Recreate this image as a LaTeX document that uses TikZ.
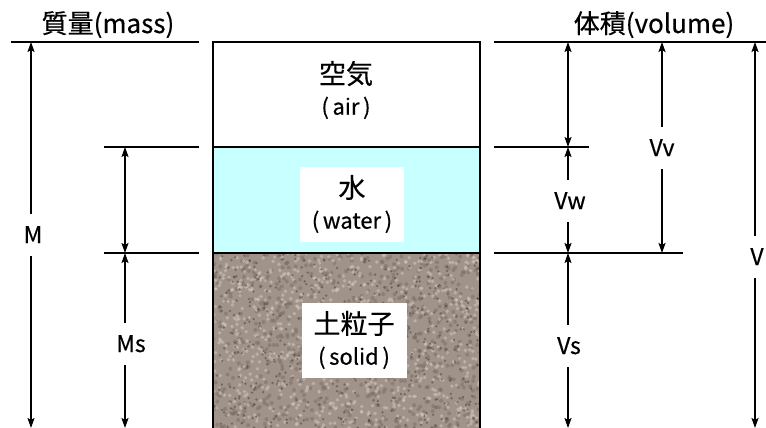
\documentclass[tikz,border=0pt]{standalone}
\usepackage{fontspec}
\usepackage{xcolor}
\usepackage{tikz}
\usetikzlibrary{arrows.meta}
\newfontfamily\jpfont[FakeBold=0.5]{Noto Sans CJK JP}
\definecolor{WaterCyan}{HTML}{C8FFFF}
\definecolor{SoilBase}{HTML}{A0938A}
\definecolor{SoilMid}{HTML}{7C6D62}
\definecolor{SoilLight}{HTML}{D3C9BE}
\definecolor{SoilDark}{HTML}{4E443B}

\begin{document}
\begin{tikzpicture}[x=1pt, y=-1pt, font=\jpfont\fontsize{22}{31}\selectfont,
  dim/.style={line width=1.8pt, -{Stealth[length=10pt,width=7pt,inset=2pt]}},
  dimboth/.style={dim, {Stealth[length=10pt,width=7pt,inset=2pt]}-{Stealth[length=10pt,width=7pt,inset=2pt]}},
  lvl/.style={line width=1.6pt},
  lbl/.style={font=\jpfont\fontsize{23}{28}\selectfont, inner xsep=2pt, inner ysep=13pt, text height=16pt, text depth=0pt},
  big/.style={font=\jpfont\fontsize{26}{31}\selectfont}]
  \useasboundingbox (0,0) rectangle (766,428);

  % soil grains
  \begin{scope}
    \clip (213,253) rectangle (480,428);
    \fill[SoilBase] (213,253) rectangle (480,428);
    \pgfmathsetseed{17}
    \foreach \i in {1,...,700}
      \fill[SoilMid, opacity=0.5] ({213+267*rnd},{253+175*rnd}) circle (2.0);
    \foreach \i in {1,...,800}
      \fill[SoilLight, opacity=0.55] ({213+267*rnd},{253+175*rnd}) circle (1.9);
    \foreach \i in {1,...,500}
      \fill[SoilDark, opacity=0.55] ({213+267*rnd},{253+175*rnd}) circle (1.3);
  \end{scope}
  \fill[WaterCyan] (213,147) rectangle (480,253);

  % column outline
  \draw[lvl] (213,428) -- (213,42) -- (480,42) -- (480,428);
  \draw[lvl] (213,147) -- (480,147);
  \draw[lvl] (213,253) -- (480,253);

  % phase labels
  \node[align=center] (air) at (346,90) {{\fontsize{27}{31}\selectfont 空気}\\(\,air\,)};
  \node[align=center, fill=white, minimum width=104pt, minimum height=75pt] (water) at (352,204)
    {{\fontsize{27}{31}\selectfont 水}\\(\,water\,)};
  \node[align=center, fill=white, minimum width=105pt, minimum height=75pt] (solid) at (354,340)
    {{\fontsize{27}{31}\selectfont 土粒子}\\(\,solid\,)};

  % headings
  \node[big, anchor=base] (mass) at (108,33) {質量(mass)};
  \node[big, anchor=base] (vol) at (654,33) {体積(volume)};

  % level lines, mass side
  \draw[lvl] (11,42) -- (199,42);
  \draw[lvl] (104,147) -- (199,147);
  \draw[lvl] (104,253) -- (199,253);
  % level lines, volume side
  \draw[lvl] (494,42) -- (766,42);
  \draw[lvl] (494,147) -- (589,147);
  \draw[lvl] (494,253) -- (683,253);

  % ends of the dimension arrows
  \coordinate (mTop) at (31,42);
  \coordinate (mBot) at (31,428);
  \coordinate (mwTop) at (125,147);
  \coordinate (msTop) at (125,253);
  \coordinate (msBot) at (125,428);
  \coordinate (vaTop) at (568,42);
  \coordinate (vwTop) at (568,147);
  \coordinate (vsTop) at (568,253);
  \coordinate (vsBot) at (568,428);
  \coordinate (vvTop) at (662,42);
  \coordinate (vvBot) at (662,253);
  \coordinate (vTop) at (755,42);
  \coordinate (vBot) at (755,428);

  \node[lbl] (M) at (33,235) {M};
  \node[lbl] (Ms) at (131,344) {Ms};
  \node[lbl] (Vw) at (570,201) {Vw};
  \node[lbl] (Vs) at (569,346) {Vs};
  \node[lbl] (Vv) at (662,148) {Vv};
  \node[lbl] (V) at (757,257) {V};

  \draw[dim] (M.north -| mTop) -- (mTop);
  \draw[dim] (M.south -| mBot) -- (mBot);
  \draw[dimboth] (mwTop) -- (msTop);
  \draw[dim] (Ms.north -| msTop) -- (msTop);
  \draw[dim] (Ms.south -| msBot) -- (msBot);
  \draw[dimboth] (vaTop) -- (vwTop);
  \draw[dim] (Vw.north -| vwTop) -- (vwTop);
  \draw[dim] (Vw.south -| vsTop) -- (vsTop);
  \draw[dim] (Vs.north -| vsTop) -- (vsTop);
  \draw[dim] (Vs.south -| vsBot) -- (vsBot);
  \draw[dim] (Vv.north -| vvTop) -- (vvTop);
  \draw[dim] (Vv.south -| vvBot) -- (vvBot);
  \draw[dim] (V.north -| vTop) -- (vTop);
  \draw[dim] (V.south -| vBot) -- (vBot);
\end{tikzpicture}
\end{document}
